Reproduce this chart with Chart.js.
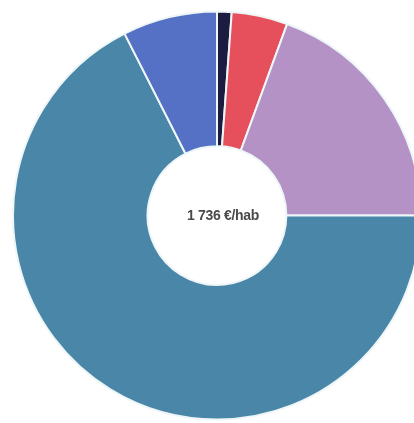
<!DOCTYPE html>
<html>
<head>
<meta charset="utf-8">
<script src="https://cdn.jsdelivr.net/npm/chart.js@4/dist/chart.umd.min.js"></script>
<style>
    html, body { margin: 0; padding: 0; background: #ffffff; overflow: hidden; width: 414px; height: 423px; }
    #wrap { position: absolute; left: 12px; top: 10px; width: 410px; height: 411px; }
    #centre { position: absolute; left: 12px; top: 10px; width: 410px; height: 410px;
        display: flex; align-items: center; justify-content: center; pointer-events: none;
        font-family: "Liberation Sans", Arial, sans-serif; font-weight: bold; font-size: 14px;
        letter-spacing: -0.3px; color: #4a4a4a; padding-left: 12px; box-sizing: border-box; }
</style>
</head>
<body>
<div id="wrap"><canvas id="grafico-depenses"></canvas></div>
<div id="centre">1 736 €/hab</div>
<script>
// Données (€/hab)
const categories = ['Poste 1', 'Poste 2', 'Poste 3', 'Poste 4', 'Poste 5'];
const valeurs = [20, 77, 337, 1172, 130];
const couleurs = ['#1c1c40', '#e5505c', '#b492c6', '#4a86a8', '#5571c6'];

const ctx = document.getElementById('grafico-depenses').getContext('2d');

// Créer le graphique
window.graficoDepenses = new Chart(ctx, {
    type: 'doughnut',
    data: {
        labels: categories,
        datasets: [{
            data: valeurs,
            backgroundColor: couleurs,
            borderColor: '#eef6f7',
            borderWidth: 2
        }]
    },
    options: {
        responsive: true,
        maintainAspectRatio: false,
        animation: false,
        cutout: '34%',
        layout: { padding: 0 },
        plugins: {
            legend: { display: false },
            tooltip: { enabled: false }
        }
    }
});
</script>
</body>
</html>
